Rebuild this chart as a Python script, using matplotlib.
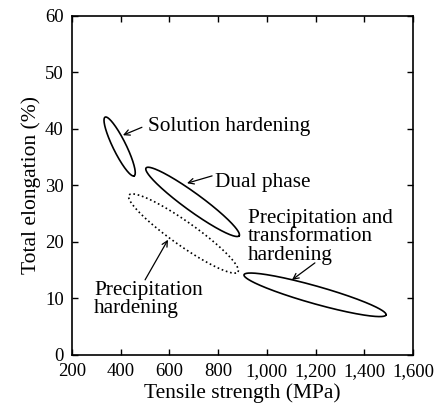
import numpy as np
import matplotlib

matplotlib.use("Agg")
import matplotlib.pyplot as plt

plt.rcParams["font.family"] = ["Liberation Serif", "DejaVu Serif"]

# Regions: major-axis end points (MPa, %) and half width (fraction of axes)
region_names = ["Solution hardening", "Dual phase", "Precipitation hardening",
                "Precipitation and transformation hardening"]
end1_x = [336, 504, 434, 906]
end1_y = [42.1, 33.1, 28.3, 14.2]
end2_x = [455, 886, 881, 1489]
end2_y = [31.7, 21.1, 14.7, 7.1]
half_width = [0.019, 0.026, 0.035, 0.026]
line_styles = ["-", "-", ":", "-"]

# Labels: last-line baseline position and arrow tail / tip (MPa, %)
label_texts = ["Solution hardening", "Dual phase", "Precipitation\nhardening",
               "Precipitation and\ntransformation\nhardening"]
label_x = [512, 787, 290, 922]
label_y = [39.6, 29.7, 7.4, 16.8]
tail_x = [487, 775, 500, 1197]
tail_y = [40.3, 31.7, 13.3, 16.3]
tip_x = [409, 672, 594, 1103]
tip_y = [38.9, 30.4, 20.4, 13.3]

x_ticks = [200, 400, 600, 800, 1000, 1200, 1400, 1600]
y_ticks = [0, 10, 20, 30, 40, 50, 60]

X0, X1, Y0, Y1 = 200, 1600, 0, 60


def ellipse(x1, y1, x2, y2, hw):
    # work in axes fractions so the shape is not skewed by the data scales
    a = np.array([(x1 - X0) / (X1 - X0), (y1 - Y0) / (Y1 - Y0)])
    b = np.array([(x2 - X0) / (X1 - X0), (y2 - Y0) / (Y1 - Y0)])
    c = (a + b) / 2
    d = (b - a) / 2
    n = np.array([-d[1], d[0]]) / np.hypot(*d) * hw
    t = np.linspace(0, 2 * np.pi, 300)
    pts = c[:, None] + d[:, None] * np.cos(t) + n[:, None] * np.sin(t)
    return X0 + pts[0] * (X1 - X0), Y0 + pts[1] * (Y1 - Y0)


fig = plt.figure(figsize=(4.39, 4.05), dpi=100)
ax = fig.add_axes([0.164, 0.1235, 0.777, 0.837])

for i in range(len(region_names)):
    ex, ey = ellipse(end1_x[i], end1_y[i], end2_x[i], end2_y[i], half_width[i])
    ax.plot(ex, ey, color="black", lw=1.2, ls=line_styles[i])

for i in range(len(label_texts)):
    ax.annotate("", xy=(tip_x[i], tip_y[i]), xytext=(tail_x[i], tail_y[i]),
                arrowprops=dict(arrowstyle="->", color="black", lw=0.9,
                                shrinkA=0, shrinkB=0, mutation_scale=10))
    ax.text(label_x[i], label_y[i], label_texts[i], fontsize=15.3,
            ha="left", va="baseline", linespacing=0.97)

ax.set_xlim(X0, X1)
ax.set_ylim(Y0, Y1)
ax.set_xticks(x_ticks)
ax.set_xticklabels([f"{v:,}" for v in x_ticks])
ax.set_yticks(y_ticks)
ax.tick_params(direction="in", top=True, right=True, length=4, width=1,
               labelsize=13.5)
ax.tick_params(axis="x", pad=6)
ax.tick_params(axis="y", pad=6)
for sp in ax.spines.values():
    sp.set_linewidth(1.2)

ax.set_xlabel("Tensile strength (MPa)", fontsize=15.5, labelpad=2)
ax.set_ylabel("Total elongation (%)", fontsize=15.5, labelpad=3)

fig.savefig("out.png", dpi=100)
